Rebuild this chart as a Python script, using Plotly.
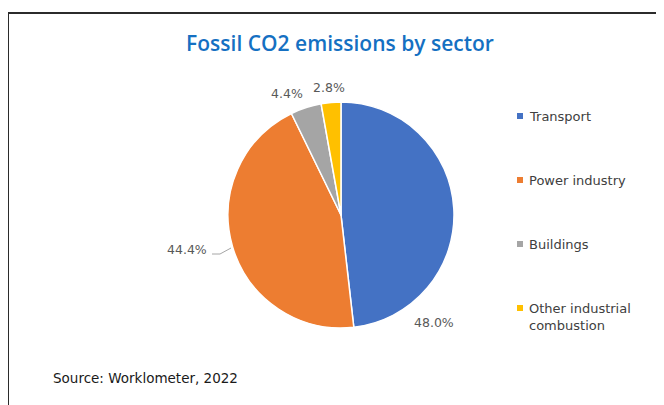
import plotly.graph_objects as go

categories = ["Transport", "Power industry", "Buildings", "Other industrial combustion"]
legend_labels = ["Transport", "Power industry", "Buildings", "Other industrial<br>combustion"]
shares = [48.0, 44.4, 4.4, 2.8]
colors = ["#4472C4", "#ED7D31", "#A5A5A5", "#FFC000"]

# page body has an 8px margin; work in window pixel coords and convert
OFF = 8
W, H = 664 - OFF, 405 - OFF


def px(x):
    return (x - OFF) / W


def py(y):
    return 1 - (y - OFF) / H


cx, cy, r = 341, 215, 113
label_font = dict(family="DejaVu Sans", size=12.5, color="#595959")

fig = go.Figure()
fig.add_trace(go.Pie(
    labels=categories,
    values=shares,
    sort=False,
    direction="clockwise",
    rotation=0,
    marker=dict(colors=colors, line=dict(color="white", width=1.5)),
    textinfo="none",
    hoverinfo="label+value",
    showlegend=False,
    domain=dict(x=[px(cx - r), px(cx + r)], y=[py(cy + r), py(cy - r)]),
))

shapes = [dict(type="rect", xref="paper", yref="paper",
               x0=px(8), x1=1.2, y0=-0.2, y1=py(13),
               line=dict(color="#2b2b2b", width=2), fillcolor="rgba(0,0,0,0)")]
annotations = []

# data labels placed where the reference shows them (best-fit placement)
label_pos = [(434, 322, "center"), (209, 249, "right"), (287, 93, "center"), (329, 87, "center")]
for v, (lx, ly, anc) in zip(shares, label_pos):
    annotations.append(dict(x=px(lx), y=py(ly), xref="paper", yref="paper",
                            text=f"{v:.1f}%", showarrow=False,
                            xanchor=anc, yanchor="middle", font=label_font))
# leader line for the Power industry label
shapes.append(dict(type="line", xref="paper", yref="paper",
                   x0=px(212), y0=py(254), x1=px(220), y1=py(254),
                   line=dict(color="#A6A6A6", width=1)))
shapes.append(dict(type="line", xref="paper", yref="paper",
                   x0=px(220), y0=py(254), x1=px(231), y1=py(248),
                   line=dict(color="#A6A6A6", width=1)))

legend_y = [116, 180, 244, 308]
for lab, col, ly in zip(legend_labels, colors, legend_y):
    shapes.append(dict(type="rect", xref="paper", yref="paper",
                       x0=px(517), x1=px(523), y0=py(ly + 3), y1=py(ly - 3),
                       line=dict(width=0), fillcolor=col))
    annotations.append(dict(x=px(527), y=py(ly - 9), xref="paper", yref="paper",
                            text=lab, showarrow=False, xanchor="left", yanchor="top",
                            align="left",
                            font=dict(family="DejaVu Sans", size=13, color="#404040")))
annotations.append(dict(x=px(51), y=py(378), xref="paper", yref="paper",
                        text="Source: Worklometer, 2022", showarrow=False,
                        xanchor="left", yanchor="middle",
                        font=dict(family="DejaVu Sans", size=13.5, color="#1a1a1a")))

fig.update_layout(
    width=W, height=H,
    margin=dict(l=0, r=0, t=0, b=0),
    paper_bgcolor="white", plot_bgcolor="white",
    title=dict(text="Fossil CO2 emissions by sector", x=px(340), xanchor="center",
               y=py(44), yanchor="middle",
               font=dict(family="Open Sans", size=21, weight=600, color="#1570C2")),
    shapes=shapes,
    annotations=annotations,
)

fig.write_html("out.html")
